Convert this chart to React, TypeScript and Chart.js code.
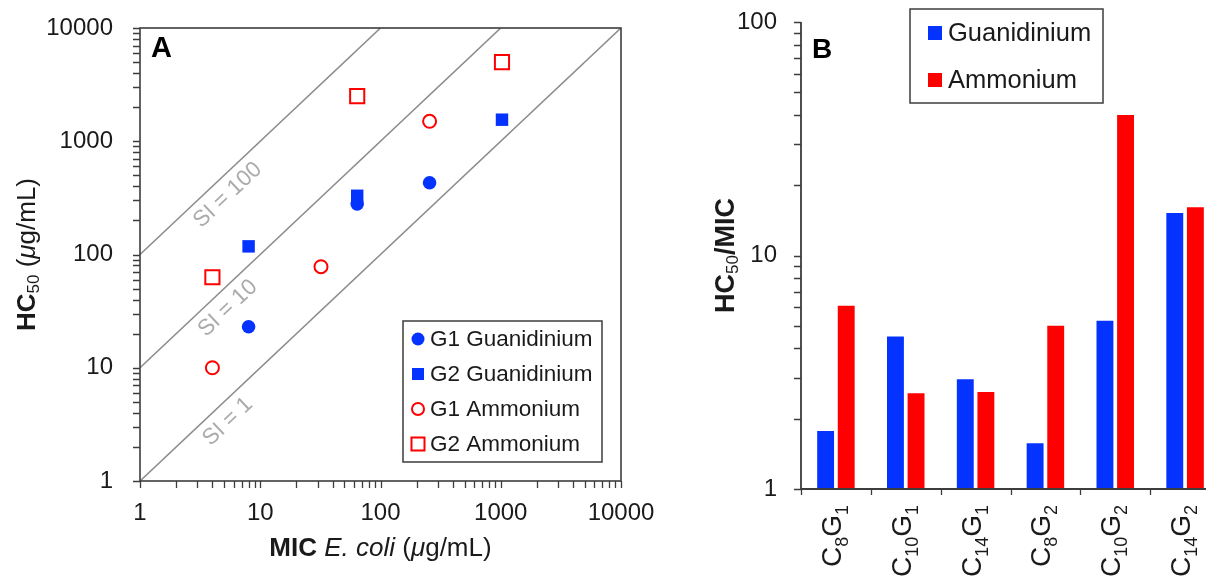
import React, { useEffect, useRef } from 'react';
import { Chart, registerables } from 'chart.js';

Chart.register(...registerables);

const FONT = '"Liberation Sans", Arial, Helvetica, sans-serif';
const BLUE = '#0433ff';
const RED = '#ff0000';
const AXIS = '#3c3c3c';
const TEXT = '#1a1a1a';

// ---------- Panel A data ----------
const seriesNames = ['G1 Guanidinium', 'G2 Guanidinium', 'G1 Ammonium', 'G2 Ammonium'];
const g1GuanMIC = [8, 64, 256];
const g1GuanHC50 = [23, 280, 430];
const g2GuanMIC = [8, 64, 1024];
const g2GuanHC50 = [118, 330, 1550];
const g1AmmMIC = [4, 32, 256];
const g1AmmHC50 = [10, 78, 1500];
const g2AmmMIC = [4, 64, 1024];
const g2AmmHC50 = [63, 2500, 5000];

const axisTicksA = [1, 10, 100, 1000, 10000];
const siLabels = ['SI = 1', 'SI = 10', 'SI = 100'];
const siValues = [1, 10, 100];
const siLineMIC = [[1, 10000], [1, 1000], [1, 100]];
const siLineHC50 = [[1, 10000], [10, 10000], [100, 10000]];

// ---------- Panel B data ----------
const categoriesB = ['C8G1', 'C10G1', 'C14G1', 'C8G2', 'C10G2', 'C14G2'];
const barSeriesNames = ['Guanidinium', 'Ammonium'];
const guanidiniumRatio = [1.77, 4.5, 2.95, 1.57, 5.25, 15.2];
const ammoniumRatio = [6.1, 2.57, 2.6, 5.0, 40, 16.1];
const axisTicksB = [1, 10, 100];

type Seg = { t: string; font: string; dy?: number };

function drawRich(ctx: CanvasRenderingContext2D, segs: Seg[], x: number, y: number, align: 'left' | 'center' | 'right') {
  let w = 0;
  for (const s of segs) {
    ctx.font = s.font;
    w += ctx.measureText(s.t).width;
  }
  let cx = align === 'center' ? x - w / 2 : align === 'right' ? x - w : x;
  ctx.textAlign = 'left';
  for (const s of segs) {
    ctx.font = s.font;
    ctx.fillText(s.t, cx, y + (s.dy || 0));
    cx += ctx.measureText(s.t).width;
  }
}

function minorTicks(majors: number[]): number[] {
  const out: number[] = [];
  for (let i = 0; i < majors.length - 1; i++) {
    for (let m = 1; m < 10; m++) out.push(majors[i] * m);
  }
  out.push(majors[majors.length - 1]);
  return out;
}

const f = (size: number, style = '') => `${style} ${size}px ${FONT}`.trim();

const fixW = (w: number) => (s: any) => {
  s.width = w;
  s.paddingTop = 0;
  s.paddingBottom = 0;
  s.paddingLeft = 0;
  s.paddingRight = 0;
};
const fixH = (h: number) => (s: any) => {
  s.height = h;
  s.paddingTop = 0;
  s.paddingBottom = 0;
  s.paddingLeft = 0;
  s.paddingRight = 0;
};

function PanelA() {
  const ref = useRef<HTMLCanvasElement>(null);
  useEffect(() => {
    const pts = (mic: number[], hc: number[]) => mic.map((x, i) => ({ x, y: hc[i] }));
    const decor = {
      id: 'decorA',
      afterDraw(chart: any) {
        const { ctx, chartArea: ca } = chart;
        const xs = chart.scales.x;
        const ys = chart.scales.y;
        ctx.save();
        // frame
        ctx.strokeStyle = AXIS;
        ctx.lineWidth = 1.6;
        ctx.strokeRect(ca.left, ca.top, ca.right - ca.left, ca.bottom - ca.top);
        // tick marks
        ctx.lineWidth = 1.3;
        ctx.beginPath();
        for (const v of minorTicks(axisTicksA)) {
          const px = Math.round(xs.getPixelForValue(v)) + 0.5;
          ctx.moveTo(px, ca.bottom);
          ctx.lineTo(px, ca.bottom + 7);
          const py = Math.round(ys.getPixelForValue(v)) + 0.5;
          ctx.moveTo(ca.left - 7, py);
          ctx.lineTo(ca.left, py);
        }
        ctx.stroke();
        // SI labels
        const ang = Math.atan2(ys.getPixelForValue(10) - ys.getPixelForValue(1), xs.getPixelForValue(10) - xs.getPixelForValue(1));
        ctx.fillStyle = '#ababab';
        ctx.font = f(22.5);
        ctx.textBaseline = 'middle';
        ctx.textAlign = 'center';
        siValues.forEach((si, k) => {
          const lx = 4.3;
          const px = xs.getPixelForValue(lx);
          const py = ys.getPixelForValue(lx * si);
          ctx.save();
          ctx.translate(px, py);
          ctx.rotate(ang);
          ctx.fillText(siLabels[k], 0, 17);
          ctx.restore();
        });
        // panel letter
        ctx.fillStyle = '#000';
        ctx.font = f(29, 'bold');
        ctx.textAlign = 'left';
        ctx.textBaseline = 'alphabetic';
        ctx.fillText('A', 151, 57);
        // legend
        const lx0 = 403, ly0 = 321, lw = 199, lh = 141;
        ctx.fillStyle = '#fff';
        ctx.fillRect(lx0, ly0, lw, lh);
        ctx.strokeStyle = AXIS;
        ctx.lineWidth = 1.5;
        ctx.strokeRect(lx0, ly0, lw, lh);
        const ds = chart.data.datasets;
        for (let i = 0; i < 4; i++) {
          const cy = 339 + i * 35;
          const mx = 418;
          const d = ds[i];
          ctx.beginPath();
          if (d.pointStyle === 'circle') {
            ctx.arc(mx, cy, i === 0 ? 6.5 : 6, 0, Math.PI * 2);
          } else {
            const s = i === 1 ? 6 : 6.5;
            ctx.rect(mx - s, cy - s, 2 * s, 2 * s);
          }
          ctx.fillStyle = d.backgroundColor;
          ctx.fill();
          if (d.borderWidth > 0) {
            ctx.strokeStyle = d.borderColor;
            ctx.lineWidth = d.borderWidth;
            ctx.stroke();
          }
          ctx.fillStyle = TEXT;
          ctx.font = f(22.5);
          ctx.textBaseline = 'middle';
          ctx.fillText(d.label, 430, cy + 1);
        }
        // axis titles
        ctx.fillStyle = TEXT;
        ctx.textBaseline = 'middle';
        drawRich(ctx, [
          { t: 'MIC ', font: f(26, 'bold') },
          { t: 'E. coli', font: f(26, 'italic') },
          { t: ' (', font: f(26) },
          { t: '\u03bc', font: f(26, 'italic') },
          { t: 'g/mL)', font: f(26) },
        ], (ca.left + ca.right) / 2, 549, 'center');
        ctx.save();
        ctx.translate(28, (ca.top + ca.bottom) / 2);
        ctx.rotate(-Math.PI / 2);
        drawRich(ctx, [
          { t: 'HC', font: f(26, 'bold') },
          { t: '50', font: f(17), dy: 6 },
          { t: ' (', font: f(26) },
          { t: '\u03bc', font: f(26, 'italic') },
          { t: 'g/mL)', font: f(26) },
        ], 0, 0, 'center');
        ctx.restore();
        ctx.restore();
      },
    };
    const chart = new Chart(ref.current!, {
      type: 'scatter',
      data: {
        datasets: [
          { label: seriesNames[0], data: pts(g1GuanMIC, g1GuanHC50), pointStyle: 'circle', pointRadius: 6.8, backgroundColor: BLUE, borderColor: BLUE, borderWidth: 0 },
          { label: seriesNames[1], data: pts(g2GuanMIC, g2GuanHC50), pointStyle: 'rect', pointRadius: 8.8, backgroundColor: BLUE, borderColor: BLUE, borderWidth: 0 },
          { label: seriesNames[2], data: pts(g1AmmMIC, g1AmmHC50), pointStyle: 'circle', pointRadius: 6.5, backgroundColor: '#ffffff', borderColor: RED, borderWidth: 2 },
          { label: seriesNames[3], data: pts(g2AmmMIC, g2AmmHC50), pointStyle: 'rect', pointRadius: 10, backgroundColor: '#ffffff', borderColor: RED, borderWidth: 2 },
          ...siValues.map((si, k) => ({
            label: siLabels[k],
            data: pts(siLineMIC[k], siLineHC50[k]),
            showLine: true,
            pointRadius: 0,
            borderColor: '#8c8c8c',
            borderWidth: 1.6,
            order: 10,
          })),
        ] as any,
      },
      options: {
        animation: false,
        responsive: false,
        events: [],
        layout: { padding: { left: 0, top: 28, right: 39, bottom: 0 } },
        plugins: { legend: { display: false }, tooltip: { enabled: false } },
        scales: {
          x: {
            type: 'logarithmic',
            min: 1,
            max: 10000,
            afterBuildTicks: (a: any) => { a.ticks = axisTicksA.map((v) => ({ value: v })); },
            afterFit: fixH(96),
            grid: { display: false },
            border: { display: false },
            ticks: { callback: (v: any) => String(v), font: { family: FONT, size: 24 }, color: TEXT, padding: 10, maxRotation: 0, autoSkip: false },
          },
          y: {
            type: 'logarithmic',
            min: 1,
            max: 10000,
            afterBuildTicks: (a: any) => { a.ticks = axisTicksA.map((v) => ({ value: v })); },
            afterFit: fixW(140),
            grid: { display: false },
            border: { display: false },
            ticks: { callback: (v: any) => String(v), font: { family: FONT, size: 24 }, color: TEXT, padding: 19, autoSkip: false },
          },
        },
      } as any,
      plugins: [decor],
    });
    return () => chart.destroy();
  }, []);
  return <canvas ref={ref} width={660} height={577} style={{ position: 'absolute', left: 0, top: 0, width: 660, height: 577 }} />;
}

function catSegs(label: string, big: number, small: number): Seg[] {
  const segs: Seg[] = [];
  const re = /([A-Z])(\d+)/g;
  let m: RegExpExecArray | null;
  while ((m = re.exec(label))) {
    segs.push({ t: m[1], font: f(big) });
    segs.push({ t: m[2], font: f(small), dy: 7 });
  }
  return segs;
}

function PanelB() {
  const ref = useRef<HTMLCanvasElement>(null);
  useEffect(() => {
    const decor = {
      id: 'decorB',
      afterDraw(chart: any) {
        const { ctx, chartArea: ca } = chart;
        const xs = chart.scales.x;
        const ys = chart.scales.y;
        ctx.save();
        ctx.strokeStyle = AXIS;
        ctx.lineWidth = 1.8;
        ctx.beginPath();
        ctx.moveTo(ca.left, ca.top);
        ctx.lineTo(ca.left, ca.bottom);
        ctx.lineTo(ca.right + 20, ca.bottom);
        ctx.stroke();
        ctx.lineWidth = 1.3;
        ctx.beginPath();
        for (const v of minorTicks(axisTicksB)) {
          const py = Math.round(ys.getPixelForValue(v)) + 0.5;
          ctx.moveTo(ca.left - 7, py);
          ctx.lineTo(ca.left, py);
        }
        const step = xs.getPixelForValue(1) - xs.getPixelForValue(0);
        for (let i = 0; i <= categoriesB.length; i++) {
          const px = Math.round(xs.getPixelForValue(i) - step / 2) + 0.5;
          ctx.moveTo(px, ca.bottom);
          ctx.lineTo(px, ca.bottom + 6);
        }
        ctx.stroke();
        // category labels
        ctx.fillStyle = TEXT;
        ctx.textBaseline = 'alphabetic';
        categoriesB.forEach((c, i) => {
          const cx = xs.getPixelForValue(i);
          ctx.save();
          ctx.translate(cx, ca.bottom + 16);
          ctx.rotate(-Math.PI / 2);
          drawRich(ctx, catSegs(c, 28, 18), 0, 5, 'right');
          ctx.restore();
        });
        // panel letter
        ctx.fillStyle = '#000';
        ctx.font = f(28, 'bold');
        ctx.textAlign = 'left';
        ctx.fillText('B', 152, 58);
        // legend
        const lx0 = 250, ly0 = 9, lw = 193, lh = 94;
        ctx.fillStyle = '#fff';
        ctx.fillRect(lx0, ly0, lw, lh);
        ctx.strokeStyle = AXIS;
        ctx.lineWidth = 1.5;
        ctx.strokeRect(lx0, ly0, lw, lh);
        chart.data.datasets.forEach((d: any, i: number) => {
          const cy = 33 + i * 47;
          ctx.fillStyle = d.backgroundColor;
          ctx.fillRect(268, cy - 7, 14, 14);
          ctx.fillStyle = TEXT;
          ctx.font = f(25.5);
          ctx.textBaseline = 'middle';
          ctx.fillText(d.label, 288, cy + 1);
        });
        // y title
        ctx.save();
        ctx.translate(67, (ca.top + ca.bottom) / 2);
        ctx.rotate(-Math.PI / 2);
        ctx.textBaseline = 'middle';
        drawRich(ctx, [
          { t: 'HC', font: f(27, 'bold') },
          { t: '50', font: f(17), dy: 6 },
          { t: '/MIC', font: f(27, 'bold') },
        ], 0, 0, 'center');
        ctx.restore();
        ctx.restore();
      },
    };
    const chart = new Chart(ref.current!, {
      type: 'bar',
      data: {
        labels: categoriesB,
        datasets: [
          { label: barSeriesNames[0], data: guanidiniumRatio, backgroundColor: BLUE, borderWidth: 0 },
          { label: barSeriesNames[1], data: ammoniumRatio, backgroundColor: RED, borderWidth: 0 },
        ],
      },
      options: {
        animation: false,
        responsive: false,
        events: [],
        layout: { padding: { left: 0, top: 22, right: 10, bottom: 0 } },
        plugins: { legend: { display: false }, tooltip: { enabled: false } },
        datasets: { bar: { categoryPercentage: 0.59, barPercentage: 0.82 } },
        scales: {
          x: {
            type: 'category',
            afterFit: fixH(88),
            grid: { display: false },
            border: { display: false },
            ticks: { display: false },
          },
          y: {
            type: 'logarithmic',
            min: 1,
            max: 100,
            afterBuildTicks: (a: any) => { a.ticks = axisTicksB.map((v) => ({ value: v })); },
            afterFit: fixW(141),
            grid: { display: false },
            border: { display: false },
            ticks: { callback: (v: any) => String(v), font: { family: FONT, size: 24 }, color: TEXT, padding: 16, autoSkip: false },
          },
        },
      } as any,
      plugins: [decor],
    });
    return () => chart.destroy();
  }, []);
  return <canvas ref={ref} width={570} height={577} style={{ position: 'absolute', left: 660, top: 0, width: 570, height: 577 }} />;
}

export default function App() {
  return (
    <div style={{ position: 'absolute', left: 0, top: 0, width: 1206, height: 577, overflow: 'hidden', background: '#fff' }}>
      <PanelA />
      <PanelB />
    </div>
  );
}
